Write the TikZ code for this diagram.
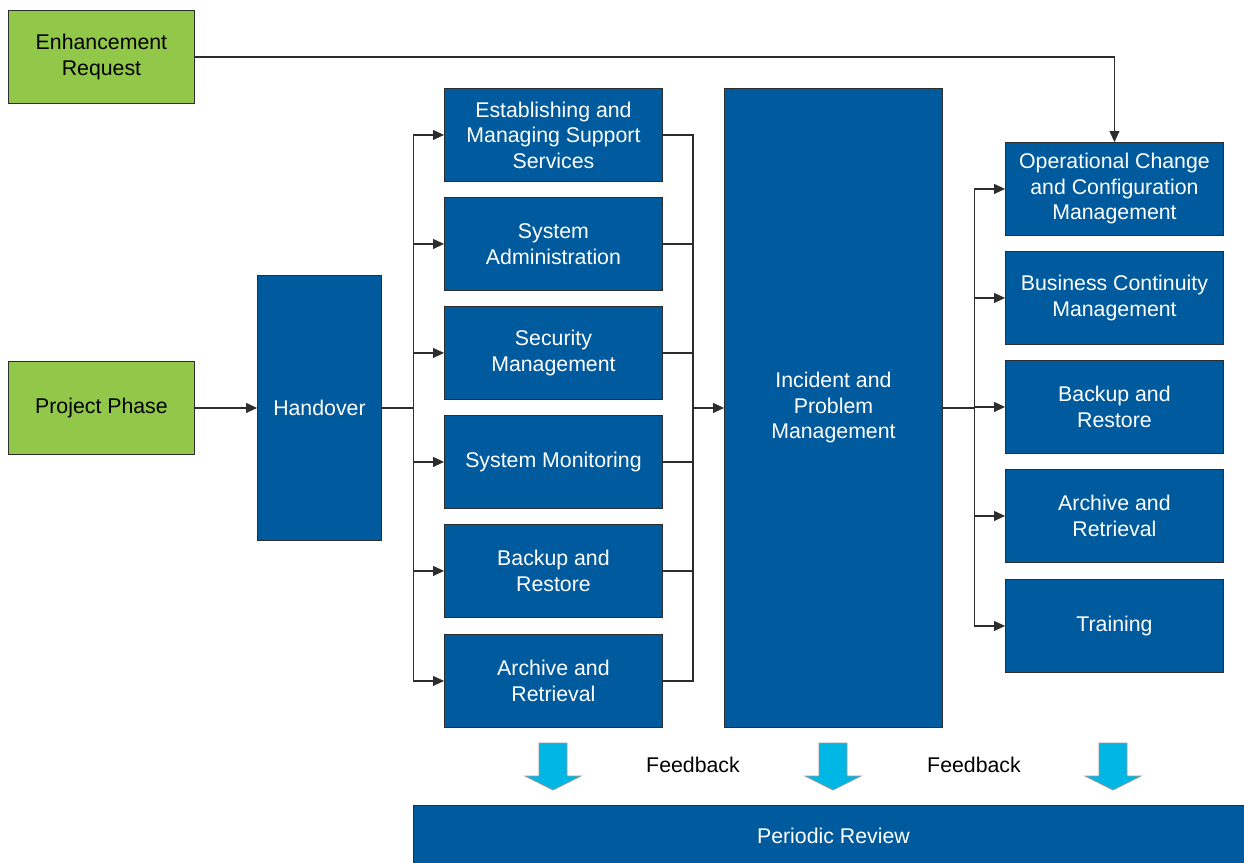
\documentclass[tikz,border=0pt]{standalone}
\usepackage{fontspec}
\setmainfont{Liberation Sans}
\usetikzlibrary{arrows.meta}
\definecolor{boxblue}{RGB}{0,91,158}
\definecolor{boxgreen}{RGB}{146,200,73}
\definecolor{fbcyan}{RGB}{0,182,228}
\definecolor{edgegray}{RGB}{45,45,45}
\begin{document}
\begin{tikzpicture}[x=1pt,y=-1pt,
  basebox/.style={draw=edgegray, line width=0.9pt, align=center, inner sep=0pt, anchor=north west,
    font=\fontsize{21.3}{25.5}\selectfont},
  blk/.style={basebox, fill=boxblue, text=white},
  grn/.style={basebox, fill=boxgreen, text=black, minimum width=186, minimum height=93},
  stdsize/.style={minimum width=218, minimum height=93},
  wire/.style={draw=edgegray, line width=1.1pt},
  conn/.style={wire, -{Triangle[length=11pt,width=10pt]}},
  fbarrow/.style={fill=fbcyan, draw=gray!80, line width=0.8pt},
  lbl/.style={font=\fontsize{21.3}{25.5}\selectfont, text=black}]
\useasboundingbox (0,0) rectangle (1244,862);

% green boxes
\node[grn] (er) at (8,10) {Enhancement\\Request};
\node[grn] (pp) at (8,361) {Project Phase};

% handover
\node[blk, minimum width=124, minimum height=265] (ho) at (257,275) {Handover};

% left column
\node[blk, stdsize] (s1) at (444,88) {Establishing and\\Managing Support\\Services};
\node[blk, stdsize] (s2) at (444,197) {System\\Administration};
\node[blk, stdsize] (s3) at (444,306) {Security\\Management};
\node[blk, stdsize] (s4) at (444,415) {System Monitoring};
\node[blk, stdsize] (s5) at (444,524) {Backup and\\Restore};
\node[blk, stdsize] (s6) at (444,634) {Archive and\\Retrieval};

% incident
\node[blk, minimum width=218, minimum height=639] (inc) at (724,88) {Incident and\\Problem\\Management};

% right column
\node[blk, stdsize] (r1) at (1005,142) {Operational Change\\and Configuration\\Management};
\node[blk, stdsize] (r2) at (1005,251) {Business Continuity\\Management};
\node[blk, stdsize] (r3) at (1005,360) {Backup and\\Restore};
\node[blk, stdsize] (r4) at (1005,469) {Archive and\\Retrieval};
\node[blk, stdsize] (r5) at (1005,579) {Training};

% periodic review
\node[blk, minimum width=840, minimum height=60] (pr) at (413,805) {Periodic Review};

% bus coordinates
\path (ho.east) ++(32,0) coordinate (lb);
\path (inc.west) ++(-31,0) coordinate (mb);
\path (inc.east) ++(32,0) coordinate (rb);

% connectors
\draw[conn] (er.east) -| (r1.north);
\draw[conn] (pp.east) -- (ho.west);
\draw[wire] (ho.east) -- (lb);
\foreach \n in {s1,s2,s3,s4,s5,s6} {
  \draw[conn] (lb) |- (\n.west);
  \draw[wire] (\n.east) -| (mb);
}
\draw[conn] (mb) -- (inc.west);
\draw[wire] (inc.east) -- (rb);
\foreach \n in {r1,r2,r3,r4,r5} {
  \draw[conn] (rb) |- (\n.west);
}

% feedback arrows
\foreach \c in {553,833,1113} {
  \draw[fbarrow] (\c-14,743) -- (\c+14,743) -- (\c+14,776) -- (\c+28,776) -- (\c,790)
    -- (\c-28,776) -- (\c-14,776) -- cycle;
}
\node[lbl] (fb1) at (693,765) {Feedback};
\node[lbl] (fb2) at (974,765) {Feedback};
\end{tikzpicture}
\end{document}
